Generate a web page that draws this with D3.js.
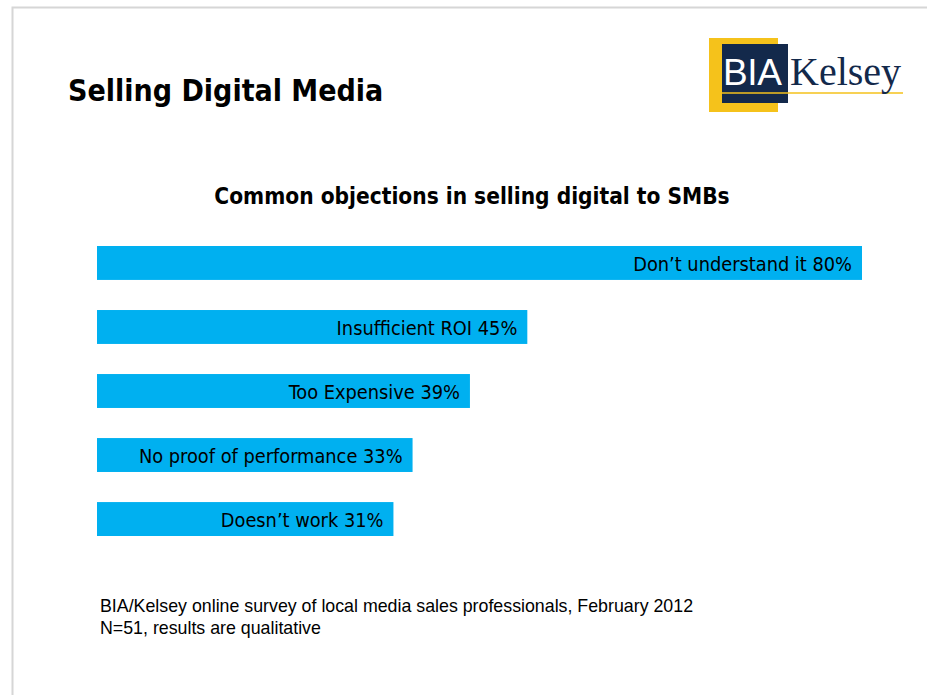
<!DOCTYPE html>
<html>
<head>
<meta charset="utf-8">
<script src="https://cdn.jsdelivr.net/npm/d3@7"></script>
<style>
  html, body { margin: 0; padding: 0; background: #fff; }
  svg { display: block; }
</style>
</head>
<body>
<svg id="chart" width="927" height="695"></svg>
<script>
// Survey responses: share of sales professionals citing each objection
const categories = ["Don\u2019t understand it", "Insufficient ROI", "Too Expensive", "No proof of performance", "Doesn\u2019t work"];
const values = [80, 45, 39, 33, 31];
const valueLabels = ["80%", "45%", "39%", "33%", "31%"];

const pageTitle = "Selling Digital Media";
const chartTitle = "Common objections in selling digital to SMBs";
const notes = [
  "BIA/Kelsey online survey of local media sales professionals, February 2012",
  "N=51, results are qualitative"
];

const svg = d3.select("#chart");
const W = 927, H = 695;

// slide frame
svg.append("rect").attr("x", 0).attr("y", 0).attr("width", W).attr("height", H).attr("fill", "#fff");
svg.append("path")
  .attr("d", `M12.5,${H} L12.5,7.5 L${W},7.5`)
  .attr("fill", "none").attr("stroke", "#d6d6d6").attr("stroke-width", 2);

const labelFont = "'DejaVu Sans Condensed', 'DejaVu Sans', Tahoma, sans-serif";

// headings
svg.append("text").attr("x", 68).attr("y", 101)
  .attr("font-family", labelFont).attr("font-weight", "bold").attr("font-size", 30)
  .attr("fill", "#000").text(pageTitle);

svg.append("text").attr("x", 472).attr("y", 204).attr("text-anchor", "middle")
  .attr("font-family", labelFont).attr("font-weight", "bold").attr("font-size", 22.5)
  .attr("fill", "#000").text(chartTitle);

// logo
const logo = svg.append("g");
logo.append("rect").attr("x", 709).attr("y", 38).attr("width", 69).attr("height", 74).attr("fill", "#f5c21b");
logo.append("rect").attr("x", 722).attr("y", 44).attr("width", 66).attr("height", 59).attr("fill", "#13294b");
logo.append("line").attr("x1", 722).attr("x2", 903).attr("y1", 93).attr("y2", 93)
  .attr("stroke", "#f5c21b").attr("stroke-width", 1.5);
logo.append("text").attr("x", 723).attr("y", 85)
  .attr("font-family", "'Liberation Sans', Arial, sans-serif").attr("font-size", 37)
  .attr("fill", "#fff").attr("textLength", 59).text("BIA");
logo.append("text").attr("x", 790).attr("y", 85)
  .attr("font-family", "'Liberation Serif', 'Times New Roman', serif").attr("font-size", 40)
  .attr("fill", "#13294b").text("Kelsey");

// scales
const x = d3.scaleLinear().domain([0, 80]).range([97, 862]);
const y = d3.scaleBand().domain(categories).range([246, 536]).paddingInner(0.47).paddingOuter(0);

const rows = categories.map((c, i) => ({ cat: c, value: values[i], label: valueLabels[i] }));

svg.append("g").selectAll("rect").data(rows).join("rect")
  .attr("x", x(0))
  .attr("y", d => y(d.cat))
  .attr("width", d => x(d.value) - x(0))
  .attr("height", y.bandwidth())
  .attr("fill", "#00b0f0");

svg.append("g").selectAll("text").data(rows).join("text")
  .attr("x", d => x(d.value) - 10)
  .attr("y", d => y(d.cat) + y.bandwidth() / 2 + 1)
  .attr("dy", "0.35em")
  .attr("text-anchor", "end")
  .attr("font-family", labelFont).attr("font-size", 19.8)
  .attr("fill", "#000")
  .text(d => `${d.cat} ${d.label}`);

// source notes
svg.append("g").selectAll("text").data(notes).join("text")
  .attr("x", 100).attr("y", (d, i) => 612 + i * 22)
  .attr("font-family", "'Liberation Sans', Arial, sans-serif").attr("font-size", 17.8)
  .attr("fill", "#000").text(d => d);
</script>
</body>
</html>
